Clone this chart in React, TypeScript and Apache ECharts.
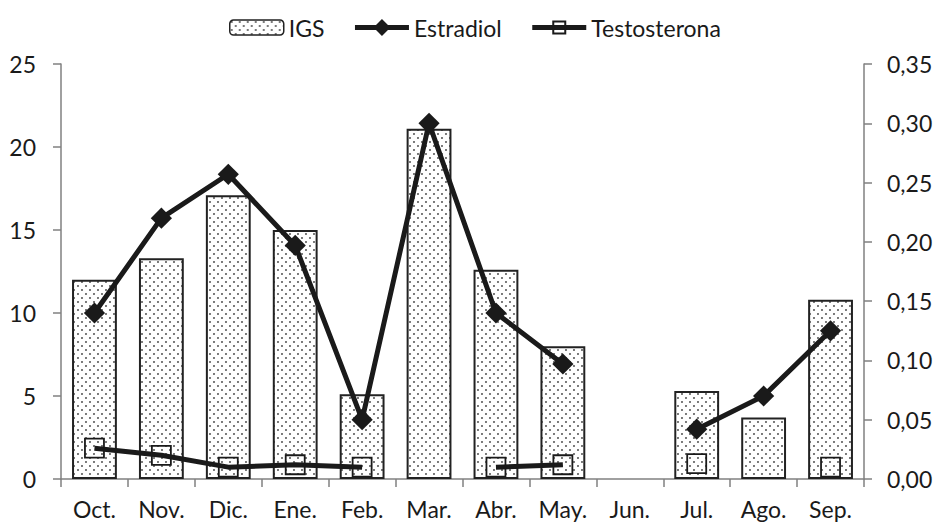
import React, { useEffect, useRef } from "react";
import * as echarts from "echarts";

const months = ["Oct.", "Nov.", "Dic.", "Ene.", "Feb.", "Mar.", "Abr.", "May.", "Jun.", "Jul.", "Ago.", "Sep."];
const igs = [12.0, 13.3, 17.1, 15.0, 5.1, 21.1, 12.6, 8.0, null, 5.3, 3.7, 10.8];
const estradiol = [0.14, 0.22, 0.257, 0.197, 0.05, 0.30, 0.14, 0.097, null, 0.042, 0.07, 0.125];
const testosterona = [0.026, 0.02, 0.01, 0.012, 0.01, null, 0.01, 0.012, null, 0.013, null, 0.01];

const FONT = "Lato";
const FS = 23;
const TEXT = "#1a1a1a";
const AXIS = "#808080";

function makePattern(): HTMLCanvasElement {
  const c = document.createElement("canvas");
  c.width = 8;
  c.height = 8;
  const ctx = c.getContext("2d")!;
  ctx.fillStyle = "#ffffff";
  ctx.fillRect(0, 0, 8, 8);
  ctx.fillStyle = "#5a5a5a";
  ctx.beginPath();
  ctx.arc(2, 2, 1.05, 0, Math.PI * 2);
  ctx.fill();
  ctx.beginPath();
  ctx.arc(6, 6, 1.05, 0, Math.PI * 2);
  ctx.fill();
  return c;
}

export default function App() {
  const ref = useRef<HTMLDivElement>(null);
  useEffect(() => {
    const chart = echarts.init(ref.current!, null, { renderer: "svg" });
    const pattern = { image: makePattern(), repeat: "repeat" };
    const axisLine = { show: true, lineStyle: { color: AXIS, width: 1.5 } };
    const axisTick = { show: true, length: 8, lineStyle: { color: AXIS, width: 1.5 } };
    chart.setOption({
      animation: false,
      textStyle: { fontFamily: FONT },
      legend: {
        top: 11,
        left: 224,
        itemGap: 28,
        itemWidth: 54,
        itemHeight: 15,
        textStyle: { fontFamily: FONT, fontSize: FS, color: TEXT },
        data: [
          { name: "IGS", itemStyle: { color: pattern as any, borderColor: "#222", borderWidth: 1.5 } },
          { name: "Estradiol", lineStyle: { width: 5, color: "#1a1a1a" } },
          { name: "Testosterona", lineStyle: { width: 5, color: "#1a1a1a" } },
        ],
      },
      grid: { left: 61, right: 73, top: 64, bottom: 45 },
      xAxis: {
        type: "category",
        data: months,
        axisLine,
        axisTick,
        axisLabel: { fontFamily: FONT, fontSize: FS, color: TEXT, margin: 18 },
      },
      yAxis: [
        {
          type: "value",
          min: 0,
          max: 25,
          interval: 5,
          splitLine: { show: false },
          axisLine,
          axisTick,
          axisLabel: { fontFamily: FONT, fontSize: FS, color: TEXT, margin: 25 },
        },
        {
          type: "value",
          min: 0,
          max: 0.35,
          interval: 0.05,
          splitLine: { show: false },
          axisLine,
          axisTick,
          axisLabel: {
            fontFamily: FONT,
            fontSize: FS,
            color: TEXT,
            margin: 23,
            formatter: (v: number) => v.toFixed(2).replace(".", ","),
          },
        },
      ],
      series: [
        {
          name: "IGS",
          type: "bar",
          data: igs,
          barCategoryGap: "33%",
          itemStyle: { color: pattern as any, borderColor: "#222", borderWidth: 2 },
        },
        {
          name: "Estradiol",
          type: "line",
          yAxisIndex: 1,
          data: estradiol,
          symbol: "rect",
          symbolRotate: 45,
          symbolSize: 15,
          lineStyle: { color: "#1a1a1a", width: 5 },
          itemStyle: { color: "#1a1a1a" },
          z: 3,
        },
        {
          name: "Testosterona",
          type: "line",
          yAxisIndex: 1,
          data: testosterona,
          symbol: "rect",
          symbolSize: 19,
          showAllSymbol: true,
          lineStyle: { color: "#1a1a1a", width: 5 },
          itemStyle: { color: "rgba(255,255,255,0)", borderColor: "#1a1a1a", borderWidth: 1.8 },
          z: 4,
        },
      ],
    });
    return () => chart.dispose();
  }, []);
  return (
    <div
      ref={ref}
      style={{ position: "absolute", left: 0, top: 0, width: 937, height: 524 }}
    />
  );
}
